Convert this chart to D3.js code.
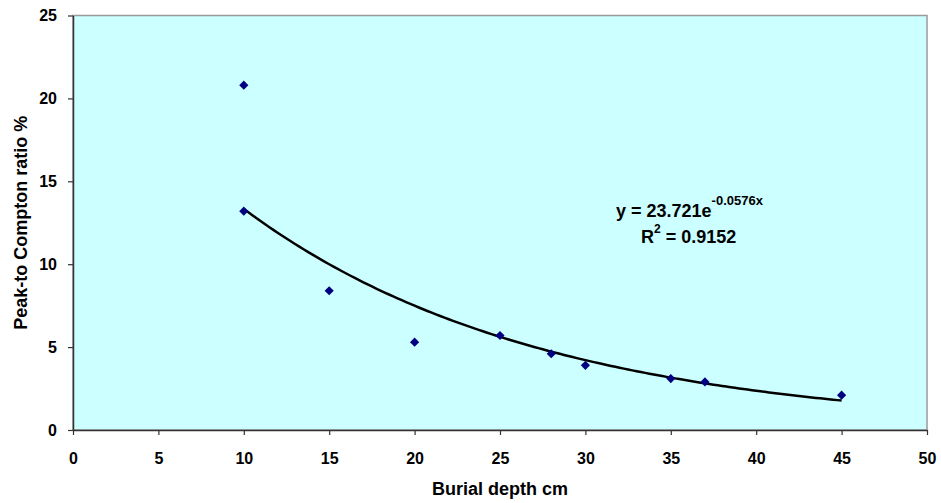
<!DOCTYPE html>
<html>
<head>
<meta charset="utf-8">
<script src="https://cdn.jsdelivr.net/npm/d3@7"></script>
<style>
  body { margin: 0; background: #fff; }
  svg text { font-family: "Liberation Sans", Arial, sans-serif; font-weight: bold; fill: #000; }
</style>
</head>
<body>
<svg id="chart" width="941" height="503"></svg>
<script>
// Burial depth (cm) and measured peak-to-Compton ratio (%)
const depths = [10, 10, 15, 20, 25, 28, 30, 35, 37, 45];
const ratios = [20.8, 13.2, 8.4, 5.3, 5.7, 4.6, 3.9, 3.1, 2.9, 2.1];

// Exponential fit y = a * e^(b x)
const fitA = 23.721;
const fitB = -0.0576;
const fitR2 = "0.9152";
const fitRange = [10, 45];

const xTicks = [0, 5, 10, 15, 20, 25, 30, 35, 40, 45, 50];
const yTicks = [0, 5, 10, 15, 20, 25];

const svg = d3.select("#chart");
const plot = { left: 73, top: 15.5, right: 927, bottom: 430 };

const x = d3.scaleLinear().domain([0, 50]).range([plot.left, plot.right]);
const y = d3.scaleLinear().domain([0, 25]).range([plot.bottom, plot.top]);

// plot background
svg.append("rect")
  .attr("x", plot.left).attr("y", plot.top)
  .attr("width", plot.right - plot.left).attr("height", plot.bottom - plot.top)
  .attr("fill", "#ccffff")
  .attr("stroke", "#9a9a9a").attr("stroke-width", 1.5);

// axes
const xAxis = d3.axisBottom(x).tickValues(xTicks).tickSize(5).tickSizeOuter(0).tickPadding(18);
const yAxis = d3.axisLeft(y).tickValues(yTicks).tickSize(5).tickSizeOuter(0).tickPadding(11);

const gx = svg.append("g").attr("transform", `translate(0,${plot.bottom})`).call(xAxis);
const gy = svg.append("g").attr("transform", `translate(${plot.left},0)`).call(yAxis);
[gx, gy].forEach(g => {
  g.select(".domain").attr("stroke", "#333").attr("stroke-width", 1.5);
  g.selectAll(".tick line").attr("stroke", "#333").attr("stroke-width", 1.2);
  g.selectAll(".tick text").attr("font-size", 16).attr("font-family", "Liberation Sans, Arial, sans-serif").attr("font-weight", "bold").attr("fill", "#000");
});

// trend line
const fitPts = d3.range(fitRange[0], fitRange[1] + 0.001, 0.25).map(v => [v, fitA * Math.exp(fitB * v)]);
svg.append("path")
  .datum(fitPts)
  .attr("fill", "none")
  .attr("stroke", "#000")
  .attr("stroke-width", 2.5)
  .attr("d", d3.line().x(d => x(d[0])).y(d => y(d[1])));

// data markers (diamonds)
svg.append("g").selectAll("path")
  .data(depths.map((d, i) => [d, ratios[i]]))
  .join("path")
  .attr("d", d3.symbol(d3.symbolSquare, 42))
  .attr("transform", d => `translate(${x(d[0])},${y(d[1])}) rotate(45)`)
  .attr("fill", "#000080");

// equation label
const eq = svg.append("text").attr("x", 616).attr("y", 217).attr("font-size", 18);
eq.append("tspan").text("y = 23.721e");
eq.append("tspan").attr("dy", -12).attr("font-size", 13).text("-0.0576x");

const r2 = svg.append("text").attr("x", 641).attr("y", 243).attr("font-size", 18);
r2.append("tspan").text("R");
r2.append("tspan").attr("dy", -10).attr("font-size", 12).text("2");
r2.append("tspan").attr("dy", 10).text(" = " + fitR2);

// axis titles
svg.append("text")
  .attr("x", (plot.left + plot.right) / 2).attr("y", 495)
  .attr("text-anchor", "middle").attr("font-size", 18)
  .text("Burial depth cm");

svg.append("text")
  .attr("transform", `translate(27,${(plot.top + plot.bottom) / 2}) rotate(-90)`)
  .attr("text-anchor", "middle").attr("font-size", 18)
  .text("Peak-to Compton ratio %");
</script>
</body>
</html>
